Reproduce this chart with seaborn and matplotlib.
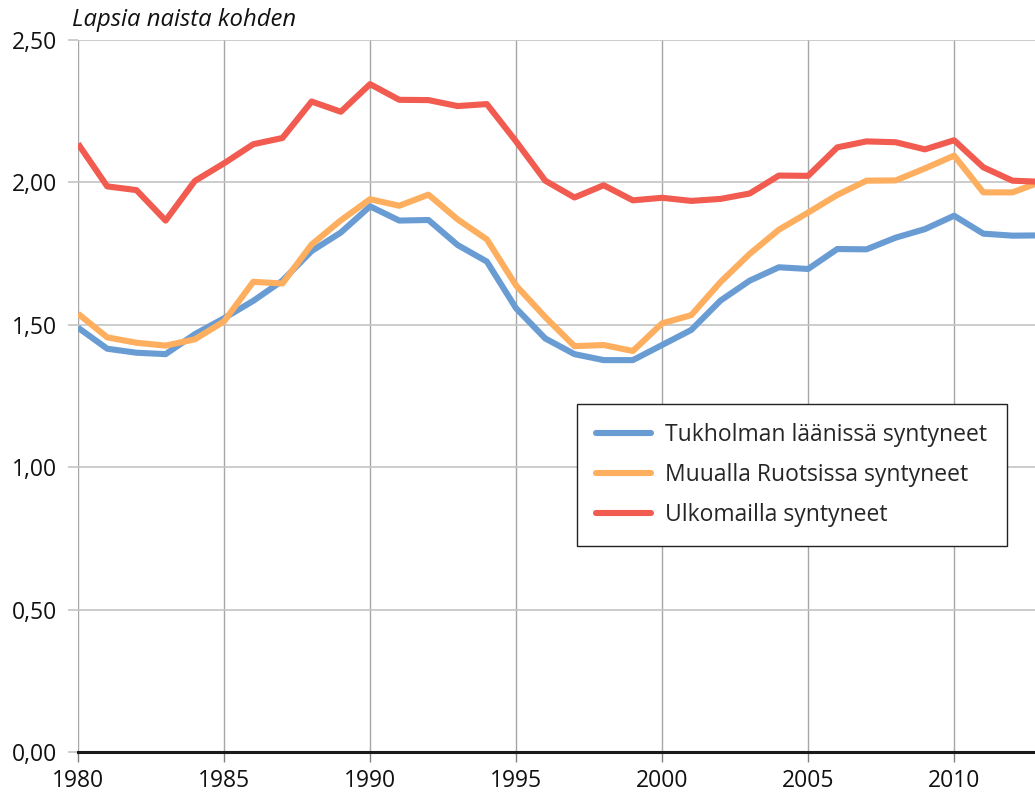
import matplotlib
matplotlib.use("Agg")
import matplotlib.pyplot as plt
import seaborn as sns
import pandas as pd

years = list(range(1980, 2014))
tukholma = [1.490, 1.416, 1.402, 1.397, 1.467, 1.523, 1.584, 1.655, 1.759, 1.824,
            1.916, 1.866, 1.868, 1.780, 1.722, 1.558, 1.452, 1.397, 1.376, 1.376,
            1.429, 1.482, 1.585, 1.655, 1.702, 1.696, 1.766, 1.765, 1.806, 1.836,
            1.883, 1.820, 1.813, 1.814]
muualla = [1.539, 1.456, 1.437, 1.427, 1.449, 1.512, 1.651, 1.645, 1.782, 1.867,
           1.941, 1.918, 1.957, 1.870, 1.800, 1.638, 1.527, 1.425, 1.429, 1.408,
           1.505, 1.534, 1.650, 1.749, 1.834, 1.894, 1.956, 2.006, 2.007, 2.049,
           2.094, 1.965, 1.965, 2.003]
ulkomailla = [2.136, 1.986, 1.973, 1.866, 2.005, 2.067, 2.134, 2.156, 2.284, 2.248,
              2.345, 2.290, 2.289, 2.268, 2.275, 2.144, 2.006, 1.947, 1.990, 1.937,
              1.946, 1.935, 1.942, 1.961, 2.024, 2.023, 2.123, 2.144, 2.141, 2.116,
              2.148, 2.053, 2.006, 2.002]
series_names = ["Tukholman läänissä syntyneet", "Muualla Ruotsissa syntyneet",
                "Ulkomailla syntyneet"]
colors = ["#6a9cd4", "#fdae5e", "#f15b50"]
x_ticks = [1980, 1985, 1990, 1995, 2000, 2005, 2010]
y_ticks = [0.0, 0.5, 1.0, 1.5, 2.0, 2.5]
y_tick_labels = ["0,00", "0,50", "1,00", "1,50", "2,00", "2,50"]
title = "Lapsia naista kohden"

df = pd.concat([
    pd.DataFrame({"Vuosi": years, "Arvo": vals, "Sarja": name})
    for name, vals in zip(series_names, [tukholma, muualla, ulkomailla])
])

sns.set_style("white")
plt.rcParams["font.family"] = ["Open Sans", "DejaVu Sans"]

fig = plt.figure(figsize=(10.35, 7.98), dpi=100)
ax = fig.add_axes([78 / 1035, 46 / 798, 1 - 78 / 1035, 712 / 798])

sns.lineplot(data=df, x="Vuosi", y="Arvo", hue="Sarja", palette=colors,
             hue_order=series_names, linewidth=4.4, ax=ax, legend=False,
             solid_capstyle="butt", clip_on=True)

ax.set_xlim(1980, 2012.77)
ax.set_ylim(0, 2.5)
ax.set_xticks(x_ticks)
ax.set_xticklabels([str(t) for t in x_ticks])
ax.set_yticks(y_ticks)
ax.set_yticklabels(y_tick_labels)
ax.set_xlabel("")
ax.set_ylabel("")

ax.xaxis.grid(True, color="#a6a6a6", linewidth=1.0)
ax.yaxis.grid(True, color="#c4c4c4", linewidth=1.2)
ax.set_axisbelow(True)

for s in ["top", "right", "left"]:
    ax.spines[s].set_visible(False)
ax.spines["bottom"].set_color("#1a1a1a")
ax.spines["bottom"].set_linewidth(2.2)
ax.spines["bottom"].set_zorder(5)

ax.tick_params(axis="x", direction="out", length=7, width=1.0, color="#808080",
               pad=5, labelsize=16.5, labelcolor="#111111", bottom=True)
ax.tick_params(axis="y", direction="out", length=7, width=1.2, color="#c4c4c4",
               pad=8, labelsize=16.5, labelcolor="#111111", left=True)

handles = [plt.Line2D([0], [0], color=c, linewidth=4.4, solid_capstyle="round")
           for c in colors]
leg = ax.legend(handles, series_names, loc="upper left",
                bbox_to_anchor=((577 - 78) / 957, (752 - 404) / 712),
                borderaxespad=0, frameon=True, fancybox=False, fontsize=16.5,
                handlelength=2.4, handletextpad=0.6, labelspacing=0.68,
                borderpad=0.85)
leg.get_frame().set_edgecolor("#222222")
leg.get_frame().set_linewidth(1.0)
leg.get_frame().set_facecolor("white")
leg.get_frame().set_alpha(1)

fig.text(72 / 1035, 1 - 20 / 798, title, fontsize=17.2, fontstyle="italic",
         ha="left", va="center", color="#111111")

fig.savefig("out.png", dpi=100)
